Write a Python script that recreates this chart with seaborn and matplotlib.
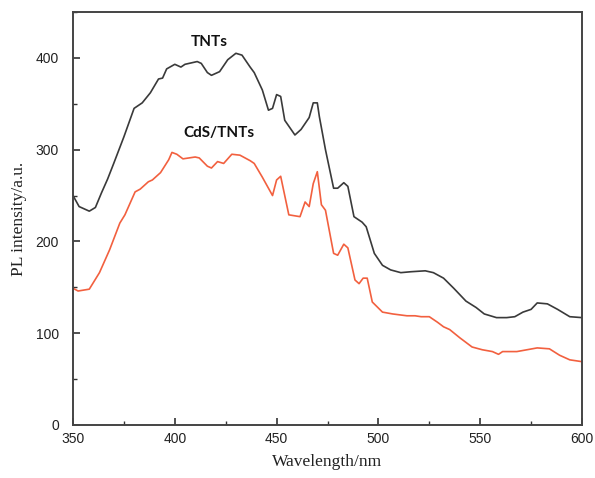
import matplotlib
matplotlib.use("Agg")
import matplotlib.pyplot as plt
from matplotlib.ticker import MultipleLocator
import seaborn as sns
import pandas as pd

# PL spectrum of bare TiO2 nanotubes
tnts_wl = [350, 353, 358, 361, 364, 367, 370, 375, 380, 384, 388, 392, 394, 396,
           400, 403, 405, 411, 413, 416, 418, 422, 426, 430, 433, 437, 439, 443,
           446, 448, 450, 452, 454, 459, 462, 466, 468, 470, 471, 474, 478, 480,
           483, 485, 488, 492, 494, 498, 502, 506, 511, 516, 523, 527, 532, 537,
           543, 548, 552, 558, 563, 567, 571, 575, 578, 583, 588, 594, 600]
tnts_pl = [250, 238, 233, 237, 253, 268, 285, 314, 345, 351, 362, 377, 378, 388,
           393, 390, 393, 396, 394, 384, 381, 385, 398, 405, 403, 390, 384, 365,
           343, 345, 360, 358, 332, 316, 322, 335, 351, 351, 336, 300, 258, 258,
           264, 260, 227, 221, 216, 187, 174, 169, 166, 167, 168, 166, 160, 149,
           135, 128, 121, 117, 117, 118, 123, 126, 133, 132, 126, 118, 117]

# PL spectrum of CdS-sensitised nanotubes
cds_wl = [350, 352.5, 358, 363, 368, 373, 375.5, 380.5, 383, 387, 389, 393, 397,
          398.6, 401, 404, 410, 412, 416, 418, 421, 424, 428, 432, 437, 439, 443,
          448, 450, 452, 456, 461.5, 464, 466, 468, 470, 472, 474, 478, 480, 483,
          485, 488.5, 490.5, 492.5, 494.5, 497, 502, 507, 514, 518, 521, 525, 529,
          532, 535, 540, 546, 551, 556, 559, 561, 568, 578, 584, 589, 594, 600]
cds_pl = [149, 146, 148, 166, 191, 220, 229, 254, 257, 265, 267, 275, 289,
          297, 295, 290, 292, 291, 282, 280, 287, 285, 295, 294, 288, 285, 270,
          250, 267, 271, 229, 227, 243, 238, 263, 276, 240, 234, 187, 185, 197,
          193, 158, 154, 160, 160, 134, 123, 121, 119, 119, 118, 118, 112,
          107, 104, 95, 85, 82, 80, 77, 80, 80, 84, 83, 76, 71, 69]

x_ticks = [350, 400, 450, 500, 550, 600]
y_ticks = [0, 100, 200, 300, 400]

sns.set_theme(style="white")
plt.rcParams["font.family"] = ["Liberation Sans", "DejaVu Sans"]

fig = plt.figure(figsize=(5.95, 4.78), dpi=100)
ax = fig.add_axes([73 / 595, 1 - 425 / 478, (582 - 73) / 595, (425 - 12) / 478])

df_tnts = pd.DataFrame({"wl": tnts_wl, "pl": tnts_pl})
df_cds = pd.DataFrame({"wl": cds_wl, "pl": cds_pl})
sns.lineplot(data=df_tnts, x="wl", y="pl", ax=ax, color="#3a3a3a", lw=1.2)
sns.lineplot(data=df_cds, x="wl", y="pl", ax=ax, color="#f2603f", lw=1.2)

ax.set_xlim(350, 600)
ax.set_ylim(0, 450)
ax.set_xticks(x_ticks)
ax.set_yticks(y_ticks)
ax.xaxis.set_minor_locator(MultipleLocator(25))
ax.yaxis.set_minor_locator(MultipleLocator(50))
ax.tick_params(which="major", direction="in", length=5, width=1.2, color="#333333",
               labelsize=10, labelcolor="#222222", bottom=True, left=True,
               top=False, right=False)
ax.tick_params(axis="x", which="major", pad=5)
ax.tick_params(axis="y", which="major", pad=10)
ax.tick_params(which="minor", direction="in", length=3, width=1.0, color="#333333",
               bottom=True, left=True, top=False, right=False)
for sp in ax.spines.values():
    sp.set_visible(True)
    sp.set_color("#444444")
    sp.set_linewidth(1.4)

ax.set_xlabel("Wavelength/nm", family=["Liberation Serif"], fontsize=12.5,
              color="#222222", labelpad=6)
ax.set_ylabel("PL intensity/a.u.", family=["Liberation Serif"], fontsize=12.5,
              color="#222222", labelpad=6)

ax.text(417, 417, "TNTs", ha="center", va="center", fontsize=11,
        fontweight="bold", family=["Lato", "DejaVu Sans"], color="#111111")
ax.text(421.5, 318, "CdS/TNTs", ha="center", va="center", fontsize=11,
        fontweight="bold", family=["Lato", "DejaVu Sans"], color="#111111")

fig.savefig("out.png", dpi=100)
